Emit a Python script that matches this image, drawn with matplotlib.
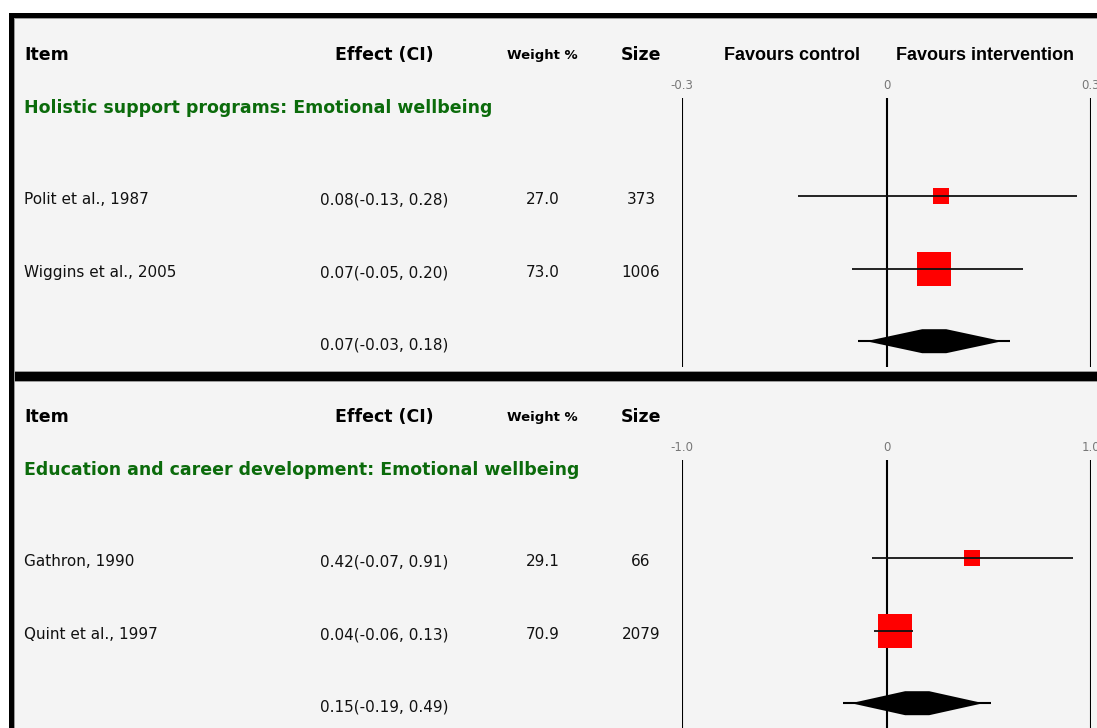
import matplotlib
matplotlib.use("Agg")
import matplotlib.pyplot as plt
from matplotlib.patches import Rectangle, Polygon
from matplotlib.transforms import blended_transform_factory

# ---------------- data ----------------
panel_titles = ["Holistic support programs: Emotional wellbeing",
                "Education and career development: Emotional wellbeing"]
panel_scale = [0.3, 1.0]
tick_labels = [["-0.3", "0", "0.3"], ["-1.0", "0", "1.0"]]

study_names = [["Polit et al., 1987", "Wiggins et al., 2005"],
               ["Gathron, 1990", "Quint et al., 1997"]]
study_est = [[0.08, 0.07], [0.42, 0.04]]
study_lo = [[-0.13, -0.05], [-0.07, -0.06]]
study_hi = [[0.28, 0.20], [0.91, 0.13]]
study_weight = [[27.0, 73.0], [29.1, 70.9]]
study_size = [[373, 1006], [66, 2079]]

pooled_est = [0.07, 0.15]
pooled_lo = [-0.03, -0.19]
pooled_hi = [0.18, 0.49]

header_cols = ["Item", "Effect (CI)", "Weight %", "Size"]
favours_labels = ["Favours control", "Favours intervention"]

# ---------------- layout helpers ----------------
W, H = 1097, 728
fig = plt.figure(figsize=(W / 100, H / 100), dpi=100)
fig.patch.set_facecolor("white")


def fx(px):
    return px / W


def fy(py):
    return 1 - py / H


def rect(x0, y0, x1, y1, color, z=0):
    fig.add_artist(Rectangle((fx(x0), fy(y1)), fx(x1) - fx(x0), fy(y0) - fy(y1),
                             transform=fig.transFigure, facecolor=color,
                             edgecolor="none", zorder=z))


BG = "#f4f4f4"
GREEN = "#0b6b0b"
TXT = "#111111"
# panel backgrounds and borders
rect(9, 13, W + 5, H + 5, BG, 0)
rect(9, 13, W + 5, 18, "black", 1)          # top border
rect(9, 13, 13.5, H + 5, "black", 1)        # left border
rect(9, 372, W + 5, 380.5, "black", 1)      # separator
rect(13.5, 18, W + 5, 19, "#9a9a9a", 1)
rect(13.5, 371, W + 5, 372, "#9a9a9a", 1)
rect(13.5, 380.5, W + 5, 381.5, "#9a9a9a", 1)
rect(13.5, 18, 14.5, H + 5, "#9a9a9a", 1)

panel_tops = [18, 380]
ROW0 = 98        # px from axes top to first study row
ROWSTEP = 72.6   # px between rows
AX_X0, AX_X1 = 682, 1091

fig.text(fx(792), fy(55), favours_labels[0], family="Liberation Sans",
         weight="bold", fontsize=13, ha="center", va="center", color="black")
fig.text(fx(985), fy(55), favours_labels[1], family="Liberation Sans",
         weight="bold", fontsize=13, ha="center", va="center", color="black")

for p in range(2):
    top = panel_tops[p]
    ax_top = top + 80
    ax_bot = min(ax_top + 269, H)
    ax = fig.add_axes([fx(AX_X0), fy(ax_bot), fx(AX_X1) - fx(AX_X0),
                       fy(ax_top) - fy(ax_bot)])
    ax.set_facecolor("none")
    for s in ax.spines.values():
        s.set_visible(False)
    sc = panel_scale[p]
    ax.set_xlim(-sc, sc)
    hpx = ax_bot - ax_top
    ax.set_ylim((hpx - ROW0) / ROWSTEP, -ROW0 / ROWSTEP)
    ax.set_yticks([])
    ax.set_xticks([-sc, 0, sc])
    ax.set_xticklabels(tick_labels[p])
    ax.xaxis.tick_top()
    ax.tick_params(axis="x", length=0, pad=4, labelsize=8.5, labelcolor="#777777",
                   top=False, bottom=False, labeltop=True, labelbottom=False)
    for v in [-sc, 0, sc]:
        ax.axvline(v, color="black", lw=1.5, zorder=1)

    # header row
    hy = fy(top + 37)
    fig.text(fx(24), hy, header_cols[0], weight="bold", fontsize=12.5,
             ha="left", va="center")
    fig.text(fx(384), hy, header_cols[1], weight="bold", fontsize=12.5,
             ha="center", va="center")
    fig.text(fx(542), hy, header_cols[2], weight="bold", fontsize=9.5,
             ha="center", va="center")
    fig.text(fx(641), hy, header_cols[3], weight="bold", fontsize=12.5,
             ha="center", va="center")
    fig.text(fx(24), fy(top + 90), panel_titles[p], weight="bold", fontsize=12.5,
             color=GREEN, ha="left", va="center")

    tr = blended_transform_factory(fig.transFigure, ax.transData)
    px_per_unit = (AX_X1 - AX_X0) / (2 * sc)
    toff = 4 / ROWSTEP
    n = len(study_names[p])
    for i in range(n):
        e, lo, hi, w = study_est[p][i], study_lo[p][i], study_hi[p][i], study_weight[p][i]
        ax.plot([lo, hi], [i, i], color=TXT, lw=1.3, zorder=3,
                solid_capstyle="butt")
        side_px = 5.4 + 0.391 * w
        ax.plot([e], [i], marker="s", markersize=side_px * 0.72, color="#ff0000",
                markeredgewidth=0, zorder=2, linestyle="none")
        fig.text(fx(24), 0, study_names[p][i], transform=tr, fontsize=11,
                 ha="left", va="center", color=TXT).set_y(i + toff)
        fig.text(fx(384), 0, f"{e:.2f}({lo:.2f}, {hi:.2f})", transform=tr,
                 fontsize=11, ha="center", va="center", color=TXT).set_y(i + toff)
        fig.text(fx(543), 0, f"{w:.1f}", transform=tr, fontsize=11,
                 ha="center", va="center", color=TXT).set_y(i + toff)
        fig.text(fx(641), 0, f"{study_size[p][i]}", transform=tr, fontsize=11,
                 ha="center", va="center", color=TXT).set_y(i + toff)

    # pooled diamond
    e, lo, hi = pooled_est[p], pooled_lo[p], pooled_hi[p]
    yr = n
    half = (hi - lo) / 2
    ax.plot([e - half * 1.06, e + half * 1.06], [yr, yr], color="black", lw=1.5,
            zorder=3, solid_capstyle="butt")
    hh = 12 / ROWSTEP
    d = 12 / px_per_unit
    body = half * 0.95
    ax.add_patch(Polygon([(e - body, yr), (e - d, yr - hh), (e + d, yr - hh),
                          (e + body, yr), (e + d, yr + hh), (e - d, yr + hh)],
                         closed=True, facecolor="black", edgecolor="none", zorder=4))
    fig.text(fx(384), 0, f"{e:.2f}({lo:.2f}, {hi:.2f})", transform=tr, fontsize=11,
             ha="center", va="center", color=TXT).set_y(yr + toff)

fig.savefig("out.png", dpi=100, facecolor=fig.get_facecolor())
